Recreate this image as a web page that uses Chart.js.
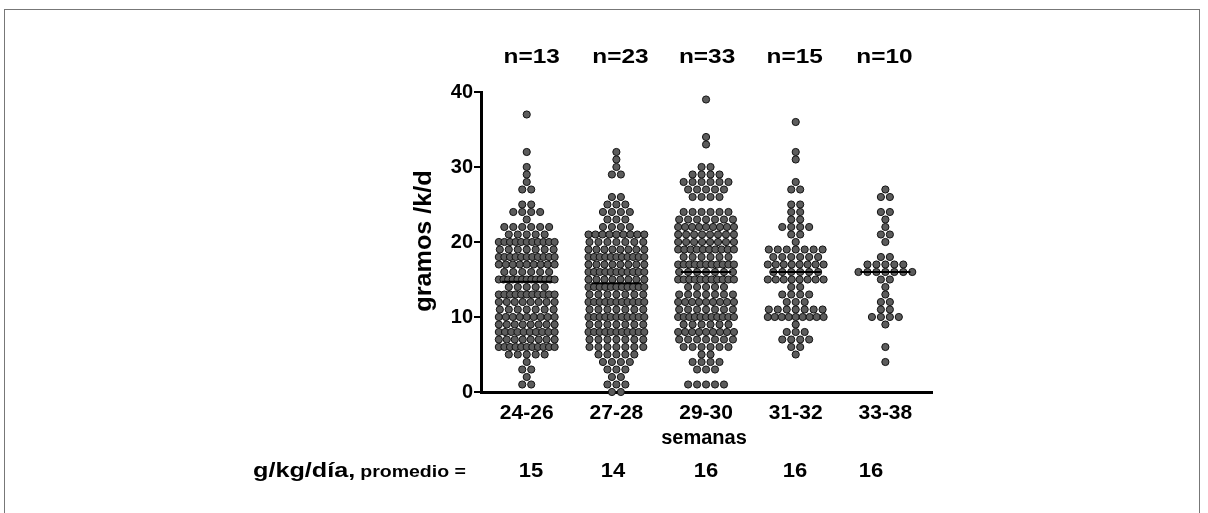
<!DOCTYPE html>
<html>
<head>
<meta charset="utf-8">
<script src="https://cdn.jsdelivr.net/npm/chart.js@4/dist/chart.umd.min.js"></script>
<style>
  body { margin: 0; background: #fff; }
  #wrap { position: relative; width: 1208px; height: 513px; overflow: hidden; }
  #frame { position: absolute; left: 4px; top: 9px; width: 1196px; height: 520px; border: 1px solid #777; box-sizing: border-box; }
  canvas { position: absolute; left: 0; top: 0; }
</style>
</head>
<body>
<div id="wrap">
  <div id="frame"></div>
  <canvas id="myChart" width="1208" height="513"></canvas>
</div>
<script>
// categorias (semanas)
var cats = ["24-26", "27-28", "29-30", "31-32", "33-38"];
var nLabels = ["n=13", "n=23", "n=33", "n=15", "n=10"];
var promedio = ["15", "14", "16", "16", "16"];
var medianas = [14.7, 14.5, 16, 16, 16];
var yTicks = [0, 10, 20, 30, 40];

// valores (g/k/d) y cuantos puntos hay en cada valor, por grupo
var g1Vals = [37,32,30,29,28,27,25,24,23,22,21,20,19,18,17,16,15,14,13,12,11,10,9,8,7,6,5,4,3,2,1];
var g1Cnt  = [1,1,1,1,1,2,2,4,1,6,5,11,7,11,9,6,13,5,11,8,7,9,8,10,8,11,5,1,2,1,2];

var g2Vals = [32,31,30,29,26,25,24,23,22,21,20,19,18,17,16,15,14,13,12,11,10,9,8,7,6,5,4,3,2,1,0];
var g2Cnt  = [1,1,1,2,2,3,4,3,4,9,7,8,11,8,11,8,11,7,11,7,11,7,11,7,7,5,4,3,2,3,2];

var g3Vals = [39,34,33,30,29,28,27,26,24,23,22,21,20,19,18,17,16,15,14,13,12,11,10,9,8,7,6,5,4,3,1];
var g3Cnt  = [1,1,1,2,4,6,5,4,6,7,9,8,8,10,6,11,7,11,5,7,9,7,11,6,9,7,6,2,4,3,5];

var g4Vals = [36,32,31,28,27,25,24,23,22,21,20,19,18,17,16,15,14,13,12,11,10,9,8,7,6,5];
var g4Cnt  = [1,1,1,1,2,2,2,2,4,2,1,7,6,8,6,8,2,4,3,7,9,1,3,4,2,1];

var g5Vals = [27,26,24,23,22,21,20,18,17,16,15,14,13,12,11,10,9,6,4];
var g5Cnt  = [1,2,2,1,1,2,1,2,5,7,2,1,1,2,2,4,1,1,1];

var groups = [[g1Vals, g1Cnt], [g2Vals, g2Cnt], [g3Vals, g3Cnt], [g4Vals, g4Cnt], [g5Vals, g5Cnt]];

var FONT = "'Liberation Sans', Arial, sans-serif";
var pxPerUnit = 90; // approx width of one category in pixels
var dotStep = 9;    // px between dots in a row
var maxSpan = 56;   // widest row, px

// spread the points of each value side by side (like a dot plot)
function buildPoints(vals, cnt, pos) {
  var pts = [];
  for (var i = 0; i < vals.length; i++) {
    var k = cnt[i];
    var step = dotStep;
    if (k > 1 && (k - 1) * step > maxSpan) step = maxSpan / (k - 1);
    for (var j = 0; j < k; j++) {
      var off = (j - (k - 1) / 2) * step;
      pts.push({ x: pos + off / pxPerUnit, y: vals[i] });
    }
  }
  return pts;
}

var datasets = [];
for (var g = 0; g < groups.length; g++) {
  datasets.push({
    type: "scatter",
    label: cats[g],
    data: buildPoints(groups[g][0], groups[g][1], g + 1),
    backgroundColor: "#5c5c5c",
    borderColor: "#111111",
    borderWidth: 1,
    pointRadius: 3.6,
    pointHoverRadius: 3.6,
    clip: false,
    order: 2
  });
}
// lineas de la mediana
for (var g = 0; g < medianas.length; g++) {
  datasets.push({
    type: "line",
    label: "med " + cats[g],
    data: [{ x: g + 1 - 0.28, y: medianas[g] }, { x: g + 1 + 0.28, y: medianas[g] }],
    borderColor: "#000",
    borderWidth: 2,
    pointRadius: 0,
    fill: false,
    order: 1
  });
}

// text a bit wider than the font, like the original picture
function wideText(ctx, str, x, y, font, sx, align) {
  ctx.save();
  ctx.font = font;
  ctx.textAlign = align || "center";
  ctx.translate(x, y);
  ctx.scale(sx, 1);
  ctx.fillText(str, 0, 0);
  var w = ctx.measureText(str).width * sx;
  ctx.restore();
  return w;
}

var nShift = [5, 4, 1, -1, -1];
var promX = [531, 613, 706, 795, 871];

// texts around the plot
var textPlugin = {
  id: "textos",
  afterDraw: function (chart) {
    var ctx = chart.ctx;
    var xs = chart.scales.x;
    ctx.save();
    ctx.fillStyle = "#000";
    ctx.textBaseline = "middle";
    for (var i = 0; i < nLabels.length; i++) {
      wideText(ctx, nLabels[i], xs.getPixelForValue(i + 1) + nShift[i], 57, "bold 20px " + FONT, 1.22);
    }
    // y title
    ctx.save();
    ctx.translate(424, 241);
    ctx.rotate(-Math.PI / 2);
    wideText(ctx, "gramos /k/d", 0, 0, "bold 24px " + FONT, 1.05);
    ctx.restore();
    // x title
    wideText(ctx, "semanas", 704, 438, "bold 20px " + FONT, 1.0);
    // promedio row
    var w = wideText(ctx, "g/kg/día,", 253, 471, "bold 21px " + FONT, 1.2, "left");
    wideText(ctx, "promedio =", 253 + w + 5, 473, "bold 16px " + FONT, 1.22, "left");
    for (var i = 0; i < promedio.length; i++) {
      wideText(ctx, promedio[i], promX[i], 471, "bold 20px " + FONT, 1.1);
    }
    ctx.restore();
  }
};

var ctx = document.getElementById("myChart");
var myChart = new Chart(ctx, {
  data: { datasets: datasets },
  options: {
    responsive: false,
    animation: false,
    events: [],
    layout: { padding: { left: 0, right: 276, top: 92, bottom: 0 } },
    plugins: { legend: { display: false }, tooltip: { enabled: false } },
    scales: {
      x: {
        type: "linear",
        min: 0.49,
        max: 5.52,
        afterBuildTicks: function (scale) {
          scale.ticks = cats.map(function (c, i) { return { value: i + 1 }; });
        },
        afterFit: function (scale) { scale.height = 121; },
        ticks: {
          callback: function (v) { return cats[v - 1]; },
          color: "#000",
          font: { family: FONT, size: 21, weight: "bold" },
          padding: 1,
          maxRotation: 0,
          autoSkip: false
        },
        grid: { display: false },
        border: { display: true, color: "#000", width: 3 }
      },
      y: {
        type: "linear",
        min: 0,
        max: 40,
        afterBuildTicks: function (scale) {
          scale.ticks = yTicks.map(function (v) { return { value: v }; });
        },
        afterFit: function (scale) { scale.width = 481; },
        ticks: {
          color: "#000",
          font: { family: FONT, size: 20, weight: "bold" },
          padding: 1
        },
        grid: { drawOnChartArea: false, drawTicks: true, tickLength: 7, color: "#000", lineWidth: 2 },
        border: { display: true, color: "#000", width: 3 }
      }
    }
  },
  plugins: [textPlugin]
});
</script>
</body>
</html>
